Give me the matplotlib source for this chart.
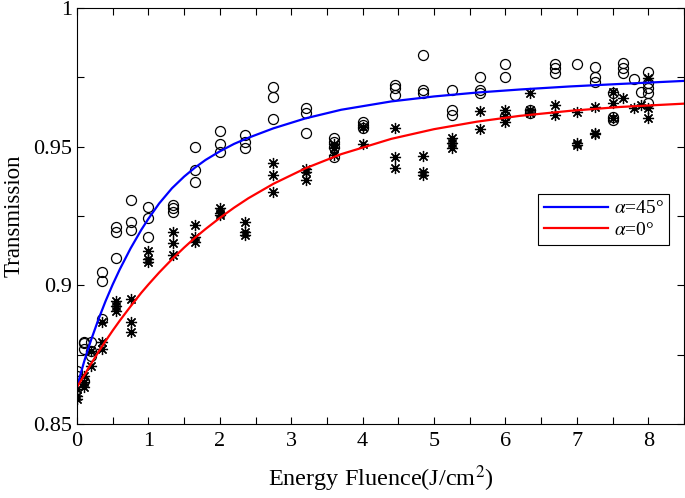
import matplotlib
matplotlib.use('Agg')
import matplotlib.pyplot as plt
from matplotlib.ticker import MultipleLocator

plt.rcParams['font.family'] = ['Liberation Serif', 'DejaVu Serif']
plt.rcParams['mathtext.fontset'] = 'stix'

# measured points, alpha = 45 deg (circles)
x45 = [0, 0, 0.1, 0.1, 0.1, 0.1, 0.2, 0.2, 0.2,
       0.35, 0.35, 0.35, 0.55, 0.55, 0.55, 0.75, 0.75, 0.75,
       1.0, 1.0, 1.0, 1.35, 1.35, 1.35, 1.65, 1.65, 1.65,
       2.0, 2.0, 2.0, 2.35, 2.35, 2.35, 2.75, 2.75, 2.75,
       3.2, 3.2, 3.2, 3.6, 3.6, 3.6, 3.6, 4.0, 4.0, 4.0,
       4.45, 4.45, 4.45, 4.85, 4.85, 4.85, 5.25, 5.25, 5.25,
       5.65, 5.65, 5.65, 6.0, 6.0, 6.0, 6.35, 6.35,
       6.7, 6.7, 6.7, 7.0, 7.25, 7.25, 7.25, 7.5, 7.5, 7.5,
       7.65, 7.65, 7.65, 7.8, 7.9, 8.0, 8.0, 8.0, 8.0, 8.0]
t45 = [0.8691, 0.8673, 0.8655, 0.8795, 0.8791, 0.8770, 0.8795, 0.8763, 0.8745,
       0.9047, 0.9014, 0.8878, 0.9209, 0.9194, 0.9097, 0.9309, 0.9230, 0.9201,
       0.9284, 0.9241, 0.9176, 0.9291, 0.9277, 0.9266, 0.9500, 0.9417, 0.9371,
       0.9557, 0.9511, 0.9482, 0.9543, 0.9518, 0.9496, 0.9715, 0.9680, 0.9601,
       0.9640, 0.9622, 0.9550, 0.9532, 0.9518, 0.9500, 0.9464, 0.9590, 0.9579, 0.9568,
       0.9723, 0.9712, 0.9687, 0.9831, 0.9705, 0.9694, 0.9705, 0.9633, 0.9615,
       0.9752, 0.9705, 0.9694, 0.9799, 0.9752, 0.9612, 0.9633, 0.9622,
       0.9799, 0.9784, 0.9766, 0.9799, 0.9788, 0.9752, 0.9734, 0.9694, 0.9608, 0.9597,
       0.9802, 0.9784, 0.9766, 0.9745, 0.9698, 0.9770, 0.9730, 0.9712, 0.9694, 0.9658]

# measured points, alpha = 0 deg (asterisks)
x0 = [0, 0, 0, 0.1, 0.1, 0.1, 0.2, 0.2, 0.35, 0.35, 0.35,
      0.55, 0.55, 0.55, 0.75, 0.75, 0.75, 1.0, 1.0, 1.0,
      1.35, 1.35, 1.35, 1.65, 1.65, 1.65, 2.0, 2.0, 2.0,
      2.35, 2.35, 2.35, 2.75, 2.75, 2.75, 3.2, 3.2, 3.2,
      3.6, 3.6, 3.6, 4.0, 4.0, 4.45, 4.45, 4.45, 4.85, 4.85, 4.85,
      5.25, 5.25, 5.25, 5.65, 5.65, 6.0, 6.0, 6.0, 6.35, 6.35, 6.35,
      6.7, 6.7, 7.0, 7.0, 7.0, 7.25, 7.25, 7.25, 7.5, 7.5, 7.5,
      7.65, 7.8, 7.9, 8.0, 8.0, 8.0]
t0 = [0.8626, 0.8601, 0.8590, 0.8673, 0.8651, 0.8633, 0.8763, 0.8709, 0.8867, 0.8795, 0.8770,
      0.8942, 0.8924, 0.8906, 0.8950, 0.8867, 0.8831, 0.9122, 0.9094, 0.9083,
      0.9191, 0.9151, 0.9108, 0.9219, 0.9176, 0.9155, 0.9277, 0.9262, 0.9255,
      0.9227, 0.9191, 0.9180, 0.9442, 0.9399, 0.9335, 0.9421, 0.9410, 0.9381,
      0.9511, 0.9496, 0.9471, 0.9572, 0.9511, 0.9568, 0.9464, 0.9424, 0.9468, 0.9410, 0.9399,
      0.9532, 0.9514, 0.9496, 0.9630, 0.9565, 0.9633, 0.9612, 0.9590, 0.9694, 0.9633, 0.9622,
      0.9651, 0.9615, 0.9626, 0.9514, 0.9507, 0.9644, 0.9550, 0.9545, 0.9698, 0.9658, 0.9604,
      0.9676, 0.9640, 0.9651, 0.9748, 0.9640, 0.9604]

# fitted curves
fit_x = [0, 0.05, 0.1, 0.15, 0.2, 0.3, 0.4, 0.5, 0.6, 0.75, 0.9, 1.0, 1.15, 1.33,
         1.5, 1.65, 1.8, 2.0, 2.2, 2.4, 2.75, 3.2, 3.7, 4.4, 5.0, 5.6, 6.2,
         6.9, 7.6, 8.5]
fit45 = [0.8633, 0.8680, 0.8725, 0.8766, 0.8805, 0.8877, 0.8943, 0.9003, 0.9058,
         0.9133, 0.9200, 0.9240, 0.9295, 0.9350, 0.9392, 0.9424, 0.9452, 0.9483,
         0.9510, 0.9532, 0.9566, 0.9602, 0.9633, 0.9663, 0.9681, 0.9695, 0.9706,
         0.9717, 0.9726, 0.9737]
fit0 = [0.8633, 0.8654, 0.8675, 0.8697, 0.8718, 0.8760, 0.8799, 0.8837, 0.8873,
        0.8924, 0.8973, 0.9003, 0.9046, 0.9094, 0.9136, 0.9171, 0.9203, 0.9243,
        0.9280, 0.9314, 0.9366, 0.9422, 0.9473, 0.9528, 0.9563, 0.9590, 0.9611,
        0.9629, 0.9643, 0.9655]

fig = plt.figure(figsize=(6.85, 4.98), dpi=100)
ax = fig.add_axes([0.1124, 0.1486, 0.8861, 0.8354])

ax.plot(x45, t45, linestyle='none', marker='o', markersize=7.2,
        markerfacecolor='none', markeredgecolor='black', markeredgewidth=0.9)
ax.plot(x0, t0, linestyle='none', marker=(8, 2, 0), markersize=8,
        color='black', markeredgewidth=0.9)
ax.plot(fit_x, fit45, color='#0000ff', linewidth=1.6, label=r'$\alpha$=45°')
ax.plot(fit_x, fit0, color='#ff0000', linewidth=1.6, label=r'$\alpha$=0°')

ax.set_xlim(0, 8.5)
ax.set_ylim(0.85, 1.0)
ax.xaxis.set_major_locator(MultipleLocator(1))
ax.xaxis.set_minor_locator(MultipleLocator(0.5))
ax.set_yticks([0.85, 0.9, 0.95, 1.0])
ax.set_yticklabels(['0.85', '0.9', '0.95', '1'])
ax.yaxis.set_minor_locator(MultipleLocator(0.025))
ax.tick_params(which='both', direction='in', top=True, right=True,
               length=5, width=0.8, labelsize=16)
ax.tick_params(axis='x', pad=6)
for s in ax.spines.values():
    s.set_linewidth(0.8)

ax.set_xlabel('Energy Fluence(J/cm$^2$)', fontsize=17.5, labelpad=9)
ax.set_ylabel('Transmission', fontsize=16.5, labelpad=6)

leg = ax.legend(loc='upper left', bbox_to_anchor=(0.759, 0.553), borderaxespad=0,
                fontsize=14, frameon=True, fancybox=False, edgecolor='black',
                framealpha=1, handlelength=3.3, handletextpad=0.3,
                borderpad=0.3, labelspacing=0.2)
leg.get_frame().set_linewidth(0.8)

fig.savefig('out.png', dpi=100)
